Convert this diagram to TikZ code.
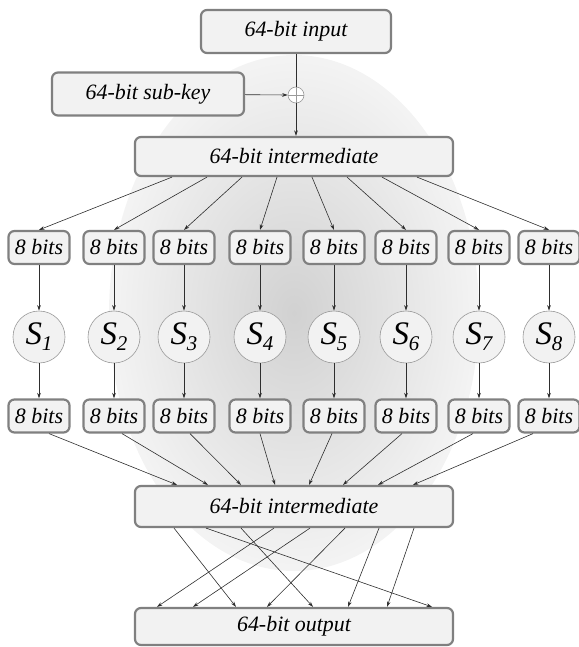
\documentclass[tikz,border=0pt]{standalone}
\usepackage{fontspec}
\setmainfont{Liberation Serif}[ItalicFont={Liberation Serif Italic}]
\newfontfamily\boxfont{Liberation Serif Italic}
\usetikzlibrary{arrows.meta}

\definecolor{boxgray}{HTML}{808080}
\definecolor{boxfill}{HTML}{F2F2F2}
\definecolor{sgray}{HTML}{9A9A9A}
\definecolor{linegray}{HTML}{2E2E2E}

\begin{document}
\begin{tikzpicture}[x=1bp,y=-1bp,
		box/.style={draw=boxgray,line width=2.2bp,fill=boxfill,rounded corners=6bp,inner sep=0pt,
			font=\fontsize{22}{25}\boxfont},
		bitbox/.style={box,minimum width=61bp,minimum height=33bp},
		widebox/.style={box,minimum width=318bp},
		sbox/.style={circle,draw=sgray,line width=0.6bp,fill=boxfill,minimum size=52bp,inner sep=0pt},
		link/.style={-{Stealth[length=5.5bp,width=3.6bp]},line width=0.6bp,draw=linegray}]
		\useasboundingbox (0,0) rectangle (579,647);
		% shaded backdrop
		\shade[inner color=gray!36,outer color=gray!9] (294,313) ellipse [x radius=185,y radius=258];
		\node[widebox,minimum width=190bp,minimum height=43bp] (input) at (296,31.5) {64-bit input};
		\node[box,minimum width=192bp,minimum height=43bp] (subkey) at (148,94) {64-bit sub-key};
		\node[circle,draw=sgray,line width=0.6bp,fill=white,minimum size=16bp,inner sep=0pt] (xor) at (296,95) {};
		\draw[sgray,line width=0.6bp] (xor.north) -- (xor.south) (xor.west) -- (xor.east);
		\node[widebox,minimum height=39bp] (mid1) at (294,156.5) {64-bit intermediate};
		\draw[line width=0.6bp,draw=linegray] (input.south -| xor) -- (xor.north);
		\draw[link] (subkey) -- (xor.west);
		\draw[link] (xor.south) -- (xor.south |- mid1.north);
		% eight S-boxes
		\foreach \i/\x in {1/39,2/114,3/184,4/260,5/334,6/406,7/479,8/549} {
			\node[bitbox] (in\i) at (\x,247.5) {8 bits};
			\node[sbox] (s\i) at (\x,337) {\fontsize{33}{33}\boxfont S\raisebox{-6bp}{\fontsize{21}{21}\boxfont\i}};
			\node[bitbox] (out\i) at (\x,416) {8 bits};
			\draw[link] (in\i) -- (s\i);
			\draw[link] (s\i) -- (out\i);
		}
		\foreach \i in {1,...,8}
			\draw[link] ([xshift={(35*\i-157)*1bp}]mid1.south) -- (in\i.north);
		\node[widebox,minimum height=41bp] (mid2) at (294,506.5) {64-bit intermediate};
		\node[widebox,minimum height=37bp] (output) at (294,626.5) {64-bit output};
		\foreach \i/\a/\b in {1/10/-117,2/8/-86,3/6/-53,4/0/-19,5/-2/15,6/-4/49,7/-6/84,8/-16/119}
			\draw[link] ([xshift=\a bp]out\i.south) -- ([xshift=\b bp]mid2.north);
		% permutation
		\foreach \a/\b in {-120/-58,-88/138,-53/19,-20/-137,16/-101,51/-27,85/54,120/93}
			\draw[link] ([xshift=\a bp]mid2.south) -- ([xshift=\b bp]output.north);
	\end{tikzpicture}
\end{document}
